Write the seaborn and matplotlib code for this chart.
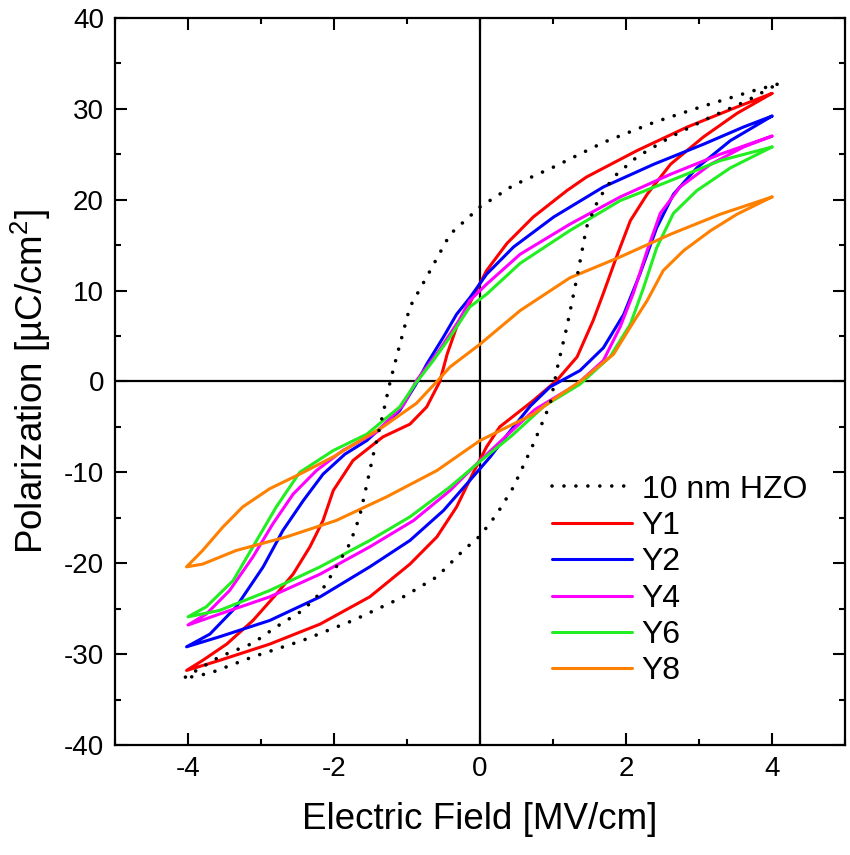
import numpy as np
import pandas as pd
import matplotlib
matplotlib.use("Agg")
import matplotlib.pyplot as plt
import seaborn as sns

# P-E loops: each loop = upper branch (+E -> -E) then lower branch (-E -> +E)
hzo_up_e = [4.07, 3.75, 3.06, 2.38, 1.69, 1.01, 0.46, 0.0, -0.41, -0.73, -0.96, -1.12, -1.23,
            -1.33, -1.46, -1.58, -1.65, -1.78, -2.02, -2.19, -2.43, -2.79, -3.11, -3.57, -4.07]
hzo_up_p = [32.7, 32.0, 30.3, 28.5, 26.3, 23.6, 21.6, 19.2, 16.2, 11.5, 8.2, 3.4, 0.0,
            -3.6, -8.0, -12.4, -14.9, -17.8, -21.1, -23.3, -25.2, -27.0, -28.8, -30.3, -32.7]
hzo_lo_e = [-4.07, -3.70, -3.11, -2.43, -1.74, -1.05, -0.59, -0.23, 0.0, 0.23, 0.46, 0.73, 0.96,
            1.07, 1.19, 1.33, 1.46, 1.62, 1.83, 2.15, 2.61, 3.16, 3.66, 4.07]
hzo_lo_p = [-32.7, -32.1, -30.3, -28.5, -26.3, -23.7, -21.5, -18.6, -17.0, -14.6, -11.6, -6.9, -2.5,
            1.9, 6.0, 11.5, 17.0, 20.0, 22.5, 24.7, 26.9, 29.1, 30.9, 32.7]

y1_up_e = [4.0, 3.52, 2.84, 2.15, 1.46, 1.19, 0.73, 0.37, 0.09, -0.14, -0.32, -0.45, -0.55, -0.73,
           -0.96, -1.33, -1.74, -2.01, -2.15, -2.33, -2.56, -2.79, -3.11, -3.47, -3.80, -4.02]
y1_up_p = [31.7, 30.2, 28.0, 25.4, 22.5, 21.0, 18.1, 15.2, 12.2, 8.6, 6.0, 3.0, 0.0, -2.8,
           -4.7, -6.1, -8.7, -12.0, -15.3, -18.2, -21.2, -23.4, -26.3, -28.9, -30.7, -31.8]
y1_lo_e = [-4.02, -3.57, -2.88, -2.19, -1.51, -0.96, -0.59, -0.32, -0.09, 0.09, 0.27, 0.73, 1.05,
           1.33, 1.55, 1.69, 1.87, 2.06, 2.29, 2.61, 3.06, 3.52, 4.0]
y1_lo_p = [-31.8, -30.7, -28.9, -26.7, -23.7, -20.1, -17.1, -13.8, -10.0, -7.2, -5.0, -2.1, 0.1,
           2.7, 6.7, 9.7, 13.7, 17.7, 20.6, 23.9, 26.9, 29.5, 31.7]

y2_up_e = [4.0, 3.61, 3.06, 2.38, 1.69, 1.01, 0.46, 0.09, -0.14, -0.32, -0.50, -0.73, -0.87, -1.10,
           -1.55, -1.85, -2.15, -2.42, -2.70, -2.97, -3.34, -3.70, -4.02]
y2_up_p = [29.2, 28.0, 26.1, 23.9, 21.4, 18.1, 14.8, 11.8, 9.2, 7.4, 4.9, 1.9, -0.2, -3.2,
           -6.5, -8.0, -10.2, -13.1, -16.4, -20.4, -24.8, -27.8, -29.2]
y2_lo_e = [-4.02, -3.57, -2.88, -2.19, -1.51, -0.96, -0.50, -0.14, 0.14, 0.36, 0.69, 0.96, 1.37,
           1.69, 1.97, 2.19, 2.42, 2.65, 2.97, 3.43, 4.0]
y2_lo_p = [-29.2, -28.1, -26.3, -23.7, -20.4, -17.5, -14.2, -10.9, -8.3, -6.0, -2.7, -0.6, 1.2,
           3.7, 7.4, 11.8, 16.9, 20.6, 23.5, 26.5, 29.2]

y4_up_e = [4.0, 3.29, 2.61, 1.92, 1.23, 0.55, 0.09, -0.14, -0.29, -0.56, -0.87, -1.05, -1.42, -1.88,
           -2.24, -2.56, -2.84, -3.11, -3.43, -3.75, -4.0]
y4_up_p = [27.0, 25.0, 22.8, 20.3, 17.3, 14.0, 10.7, 8.9, 6.7, 3.4, 0.1, -2.6, -5.6, -7.6,
           -9.8, -12.4, -15.7, -19.3, -23.0, -25.6, -26.8]
y4_lo_e = [-4.0, -3.57, -2.88, -2.19, -1.51, -0.91, -0.41, -0.05, 0.36, 0.75, 1.33, 1.69, 1.92,
           2.10, 2.29, 2.47, 2.74, 3.16, 3.61, 4.0]
y4_lo_p = [-26.8, -25.6, -23.7, -21.2, -18.2, -15.3, -12.0, -9.1, -6.0, -3.1, -0.3, 2.3, 6.0,
           9.7, 14.4, 18.5, 21.4, 23.9, 25.8, 27.0]

y6_up_e = [4.0, 3.29, 2.61, 1.92, 1.23, 0.55, 0.09, -0.14, -0.41, -0.64, -0.89, -1.10, -1.55, -2.01,
           -2.47, -2.79, -3.06, -3.38, -3.75, -4.0]
y6_up_p = [25.8, 24.3, 22.1, 19.9, 16.6, 13.0, 9.6, 8.2, 4.9, 2.3, -0.3, -2.8, -5.8, -7.6,
           -10.0, -13.8, -17.5, -21.9, -24.8, -25.9]
y6_lo_e = [-4.0, -3.57, -2.88, -2.19, -1.51, -0.96, -0.41, 0.0, 0.43, 0.88, 1.37, 1.78, 2.06,
           2.24, 2.42, 2.65, 2.97, 3.43, 4.0]
y6_lo_p = [-25.9, -25.2, -23.0, -20.4, -17.5, -14.9, -11.6, -8.8, -6.0, -2.7, -0.3, 2.7, 6.3,
           10.3, 14.7, 18.5, 21.0, 23.5, 25.8]

y8_up_e = [4.0, 3.29, 2.61, 1.92, 1.23, 0.55, 0.0, -0.41, -0.59, -0.87, -1.33, -2.01,
           -2.47, -2.88, -3.25, -3.52, -3.80, -4.02]
y8_up_p = [20.3, 18.4, 16.2, 13.7, 11.4, 7.8, 4.1, 1.6, 0.0, -2.4, -5.0, -8.3,
           -10.2, -11.8, -13.8, -16.0, -18.6, -20.4]
y8_lo_e = [-4.02, -3.80, -3.34, -2.65, -1.97, -1.28, -0.59, 0.0, 0.73, 1.02, 1.37, 1.83, 2.06,
           2.29, 2.51, 2.79, 3.16, 3.52, 4.0]
y8_lo_p = [-20.4, -20.1, -18.6, -17.1, -15.3, -12.7, -9.8, -6.5, -3.6, -1.9, 0.0, 3.0, 6.0,
           8.9, 12.2, 14.4, 16.6, 18.4, 20.3]

labels = ['10 nm HZO', 'Y1', 'Y2', 'Y4', 'Y6', 'Y8']
colors = ['black', '#ff0000', '#0000ff', '#ff00ff', '#22ee22', '#ff8000']
loops = [
    (hzo_up_e + hzo_lo_e, hzo_up_p + hzo_lo_p),
    (y1_up_e + y1_lo_e, y1_up_p + y1_lo_p),
    (y2_up_e + y2_lo_e, y2_up_p + y2_lo_p),
    (y4_up_e + y4_lo_e, y4_up_p + y4_lo_p),
    (y6_up_e + y6_lo_e, y6_up_p + y6_lo_p),
    (y8_up_e + y8_lo_e, y8_up_p + y8_lo_p),
]

sns.set_style("ticks")
plt.rcParams['font.family'] = ['Liberation Sans', 'DejaVu Sans']
plt.rcParams['mathtext.fontset'] = 'custom'
plt.rcParams['mathtext.rm'] = 'Liberation Sans'
plt.rcParams['mathtext.it'] = 'Liberation Sans:italic'
plt.rcParams['axes.unicode_minus'] = False
plt.rcParams['axes.edgecolor'] = 'black'
plt.rcParams['xtick.color'] = 'black'
plt.rcParams['ytick.color'] = 'black'
plt.rcParams['text.color'] = 'black'
plt.rcParams['axes.labelcolor'] = 'black'

fig = plt.figure(figsize=(8.5, 8.55), dpi=100)
ax = fig.add_axes([0.1353, 0.1287, 0.8588, 0.8503])

ax.axhline(0, color='black', lw=1.6, zorder=1)
ax.axvline(0, color='black', lw=1.6, zorder=1)

for (e, p), lab, col in zip(loops, labels, colors):
    df = pd.DataFrame({'E': e, 'P': p})
    if lab == '10 nm HZO':
        sns.lineplot(data=df, x='E', y='P', sort=False, estimator=None, ax=ax, color=col,
                     lw=2.6, linestyle=(0, (0.01, 3.3)), dash_capstyle='round', label=lab, zorder=3)
    else:
        sns.lineplot(data=df, x='E', y='P', sort=False, estimator=None, ax=ax, color=col,
                     lw=2.2, solid_joinstyle='round', label=lab, zorder=2)

ax.set_xlim(-5, 5)
ax.set_ylim(-40, 40)
ax.set_xticks([-4, -2, 0, 2, 4])
ax.set_xticks([-5, -3, -1, 1, 3, 5], minor=True)
ax.set_yticks(np.arange(-40, 41, 10))
ax.set_yticks(np.arange(-35, 40, 10), minor=True)
ax.tick_params(which='both', direction='in', top=True, right=True, width=1.5, labelsize=20, pad=8)
ax.tick_params(which='major', length=8.5)
ax.tick_params(which='minor', length=4.5)
for s in ax.spines.values():
    s.set_linewidth(1.6)

ax.set_xlabel('Electric Field [MV/cm]', fontsize=26.5, labelpad=14)
ax.set_ylabel('Polarization [µC/cm$^2$]', fontsize=26.5, labelpad=8)

ax.legend(loc='upper left', bbox_to_anchor=(0.599, 0.372), frameon=False, fontsize=23,
          handlelength=2.5, handletextpad=0.3, labelspacing=0.2, borderpad=0, borderaxespad=0)

fig.savefig('out.png', dpi=100)
